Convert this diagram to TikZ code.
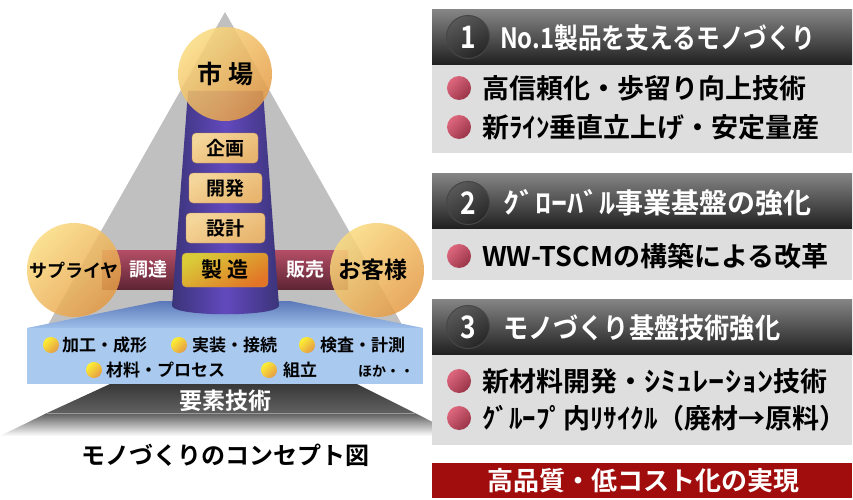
\documentclass[tikz,border=0pt]{standalone}
\usepackage{graphicx}
\usepackage{fontspec}
\setmainfont{Noto Sans CJK JP}[BoldFont={* Bold}]
\newcommand\jfs[1]{\fontsize{#1}{#1}\selectfont}
\newcommand\narrowtxt[1]{\scalebox{0.85}[1]{#1}}
\newcommand\widekana[1]{\scalebox{1.2}[1]{#1}}
\definecolor{ballA}{HTML}{FADB80}
\definecolor{ballB}{HTML}{E49A45}
\definecolor{boxA}{HTML}{F5D69A}
\definecolor{boxB}{HTML}{E8B56E}
\definecolor{mfgA}{HTML}{D9CC38}
\definecolor{mfgB}{HTML}{E27526}
\definecolor{colEdge}{HTML}{3B3479}
\definecolor{colMid}{HTML}{6249BD}
\definecolor{barA}{HTML}{B44E66}
\definecolor{barB}{HTML}{5E2535}
\definecolor{skyA}{HTML}{5A78B8}
\definecolor{skyB}{HTML}{9EBFEA}
\definecolor{sky}{HTML}{A9C9EF}
\definecolor{pyr}{HTML}{C0C0C0}
\definecolor{hdA}{HTML}{858585}
\definecolor{hdB}{HTML}{1F1F1F}
\definecolor{body}{HTML}{DEDEDE}
\definecolor{pinkA}{HTML}{DE687E}
\definecolor{pinkB}{HTML}{9A3448}
\definecolor{goal}{HTML}{A10D0D}
\begin{document}
\begin{tikzpicture}[x=1pt,y=-1pt,font=\bfseries,
  every node/.style={inner sep=0pt,outer sep=0pt},
  ball/.style={circle,minimum size=94pt,top color=ballA,bottom color=ballB,
    shading angle=45,fill opacity=0.86,text opacity=1},
  stagebox/.style={rounded corners=4pt,top color=boxA,bottom color=boxB,
    shading angle=30,draw=boxB!80!black,line width=0.3pt,minimum height=30pt},
  grain/.style={circle,minimum size=16pt,top color=yellow!60!ballA,
    bottom color=ballB,shading angle=45},
  numdisk/.style={circle,minimum size=43pt,top color=gray!70!black,
    bottom color=black!85,shading angle=30,draw=gray!55!black,line width=1pt,
    text=white,font=\bfseries\jfs{31}},
  pinkdot/.style={circle,minimum size=24pt,top color=pinkA,bottom color=pinkB,
    shading angle=45},
  hdtext/.style={anchor=west,text=white,font=\bfseries\jfs{28}},
  bodytext/.style={anchor=west,text=black,font=\bfseries\jfs{27}},
  basetext/.style={anchor=west,font=\bfseries\jfs{17}},
]
\useasboundingbox (0,0) rectangle (853,500);

% ---------- pyramid ----------
\fill[pyr] (225,12) -- (45,330) -- (405,330) -- cycle;

% dark foundation with fading lower half
\shade[top color=black!78,bottom color=black!62]
  (110,384) -- (357,384) -- (415,413) -- (47,413) -- cycle;
\shade[top color=black!64,bottom color=white]
  (47,413) -- (415,413) -- (460,436) -- (0,436) -- cycle;
\draw[black!40,line width=0.6pt] (47,413) -- (415,413);
\node[text=white,font=\bfseries\jfs{23}] (yoso) at (225,401) {要素技術};

% blue platform
\shade[top color=skyA,bottom color=skyB]
  (27,328) -- (160,301) -- (290,301) -- (423,328) -- cycle;
\fill[sky] (27,328) rectangle (423,384);

% purchasing / sales bar
\shade[top color=barA,bottom color=barB] (102,250) rectangle (348,289);
\node[text=white,font=\bfseries\jfs{19}] (chotatsu) at (148,269) {調達};
\node[text=white,font=\bfseries\jfs{19}] (hanbai) at (305,269) {販売};

% central column
\shade[left color=colEdge,right color=colEdge,middle color=colMid]
  (188,91) -- (263,91) -- (279,306) .. controls (276,317) and (175,317) .. (172,306) -- cycle;

% market / supplier / customer balls
\node[ball,font=\bfseries\jfs{25}] (market) at (225,74) {市\hspace{6pt}場};
\node[ball,font=\bfseries\jfs{18}] (supplier) at (74,270) {サプライヤ};
\node[ball,font=\bfseries\jfs{23}] (customer) at (377,270) {\hspace*{-8pt}お客様};

% process steps on the column
\node[stagebox,minimum width=66pt,font=\bfseries\jfs{19}] (kikaku) at (225,148) {企画};
\node[stagebox,minimum width=73pt,font=\bfseries\jfs{19}] (kaihatsu) at (225.5,188) {開発};
\node[stagebox,minimum width=79pt,font=\bfseries\jfs{19}] (sekkei) at (225.5,228) {設計};
\node[stagebox,minimum width=86pt,minimum height=34pt,top color=mfgA,bottom color=mfgB,
  shading angle=30,font=\bfseries\jfs{21}] (seizo) at (225,270) {製\hspace{5pt}造};

% element technologies
\node[grain] (g1) at (51,345) {};
\node[basetext] (t1) at (62,345) {加工・成形};
\node[grain] (g2) at (179,345) {};
\node[basetext] (t2) at (192,345) {実装・接続};
\node[grain] (g3) at (307,345) {};
\node[basetext] (t3) at (320,345) {検査・計測};
\node[grain] (g4) at (94,370) {};
\node[basetext] (t4) at (106,370) {材料・プロセス};
\node[grain] (g5) at (269,370) {};
\node[basetext] (t5) at (283,370) {組立};
\node[anchor=west,font=\bfseries\jfs{14}] (t6) at (358,371) {ほか・・};

\node[font=\bfseries\jfs{24}] (caption) at (225,455) {モノづくりのコンセプト図};

% ---------- right-hand panels ----------
% panel 1
\shade[top color=hdA,bottom color=hdB] (432,10) rectangle (852,65);
\fill[body] (432,65) rectangle (852,153);
\node[numdisk] (n1) at (468,37) {\narrowtxt{1}};
\node[hdtext] (h1) at (500,38) {\narrowtxt{No.1製品を支えるモノづくり}};
\node[pinkdot] (p11) at (459,88) {};
\node[bodytext] (b11) at (482,88) {高信頼化・歩留り向上技術};
\node[pinkdot] (p12) at (459,127) {};
\node[bodytext] (b12) at (482,127) {新ﾗｲﾝ垂直立上げ・安定量産};

% panel 2
\shade[top color=hdA,bottom color=hdB] (432,173) rectangle (852,229);
\fill[body] (432,229) rectangle (852,280);
\node[numdisk] (n2) at (468,203) {\narrowtxt{2}};
\node[hdtext] (h2) at (503,203) {\scalebox{1.15}[1]{ｸﾞﾛｰﾊﾞﾙ}事業基盤の強化};
\node[pinkdot] (p21) at (459,256) {};
\node[bodytext] (b21) at (482,256) {WW-TSCMの構築による改革};

% panel 3
\shade[top color=hdA,bottom color=hdB] (432,299) rectangle (852,355);
\fill[body] (432,355) rectangle (852,445);
\node[numdisk] (n3) at (468,327) {\narrowtxt{3}};
\node[hdtext] (h3) at (503,328) {\scalebox{0.9}[1]{モノづくり基盤技術強化}};
\node[pinkdot] (p31) at (459,381) {};
\node[bodytext] (b31) at (482,381) {新材料開発・\widekana{ｼﾐｭﾚｰｼｮﾝ}技術};
\node[pinkdot] (p32) at (459,418) {};
\node[bodytext] (b32) at (482,418) {ｸﾞﾙｰﾌﾟ内ﾘｻｲｸﾙ（廃材→原料）};

% goal banner
\fill[goal] (432,463) rectangle (852,498);
\node[text=white,font=\bfseries\jfs{26}] (goaltext) at (643,481) {高品質・低コスト化の実現};
\end{tikzpicture}
\end{document}
